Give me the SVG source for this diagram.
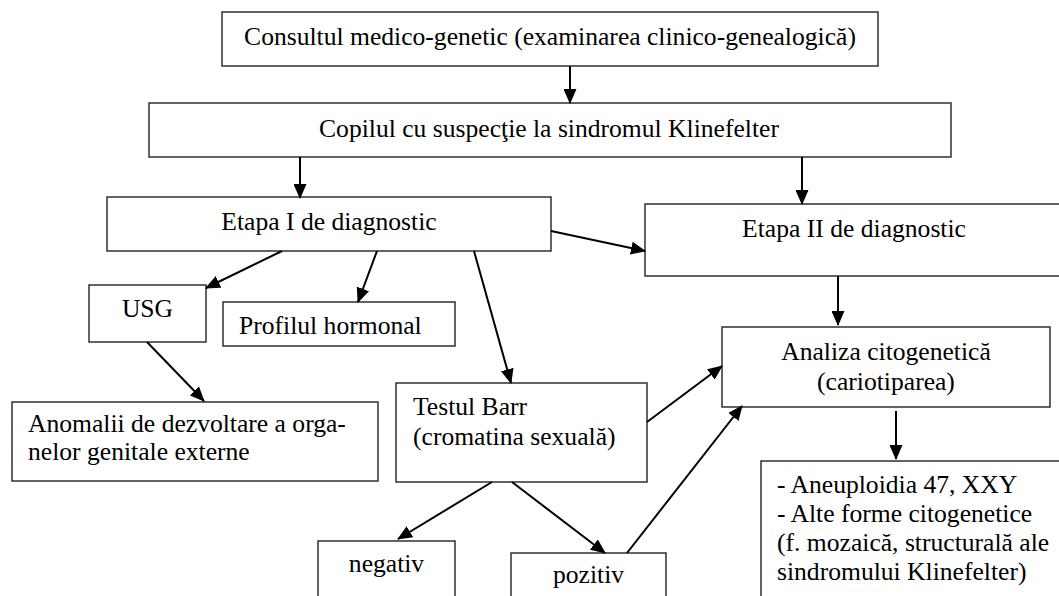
<svg xmlns="http://www.w3.org/2000/svg" width="1059" height="596" viewBox="0 0 1059 596">
<style>
.box{fill:#fff;stroke:#222;stroke-width:1.4}
.t{font-family:"Liberation Serif","Times New Roman",serif;font-size:25.6px;fill:#000}
.c{text-anchor:middle}
.ln{stroke:#000;stroke-width:2;fill:none;marker-end:url(#ah)}
</style>
<defs>
<marker id="ah" markerUnits="userSpaceOnUse" markerWidth="15" markerHeight="13" refX="14" refY="6.5" orient="auto">
<path d="M0,0 L15,6.5 L0,13 z" fill="#000"/>
</marker>
</defs>
<rect width="1059" height="596" fill="#fff"/>
<g id="n-consult"><rect class="box" x="222" y="12" width="656" height="54"/><text class="t c" x="550" y="45">Consultul medico-genetic (examinarea clinico-genealogică)</text></g>
<g id="n-copil"><rect class="box" x="149" y="103" width="802" height="54"/><text class="t c" x="549" y="137">Copilul cu suspecţie la sindromul Klinefelter</text></g>
<g id="n-etapa1"><rect class="box" x="107" y="197" width="444" height="54"/><text class="t c" x="329" y="230">Etapa I de diagnostic</text></g>
<g id="n-etapa2"><rect class="box" x="645" y="204" width="420" height="72"/><text class="t c" x="854" y="237">Etapa II de diagnostic</text></g>
<g id="n-usg"><rect class="box" x="89" y="285" width="117" height="57"/><text class="t c" x="147.5" y="317">USG</text></g>
<g id="n-profil"><rect class="box" x="223" y="302" width="232" height="44"/><text class="t" x="239" y="334">Profilul hormonal</text></g>
<g id="n-anomalii"><rect class="box" x="12" y="402" width="366" height="79"/><text class="t" x="28" y="432">Anomalii de dezvoltare a orga-</text><text class="t" x="28" y="460">nelor genitale externe</text></g>
<g id="n-barr"><rect class="box" x="396" y="383" width="251" height="99"/><text class="t" x="413" y="415">Testul Barr</text><text class="t" x="413" y="445">(cromatina sexuală)</text></g>
<g id="n-analiza"><rect class="box" x="722" y="327" width="328" height="80"/><text class="t c" x="886" y="360">Analiza citogenetică</text><text class="t c" x="886" y="390">(cariotiparea)</text></g>
<g id="n-rezultat"><rect class="box" x="761" y="461" width="310" height="145"/><text class="t" x="777" y="493">- Aneuploidia 47, XXY</text><text class="t" x="777" y="522">- Alte forme citogenetice</text><text class="t" x="777" y="551">(f. mozaică, structurală ale</text><text class="t" x="777" y="580">sindromului Klinefelter)</text></g>
<g id="n-negativ"><rect class="box" x="318" y="541" width="137" height="65"/><text class="t c" x="386.5" y="572">negativ</text></g>
<g id="n-pozitiv"><rect class="box" x="511" y="553" width="155" height="53"/><text class="t c" x="588.5" y="583">pozitiv</text></g>
<g id="connectors">
<line class="ln" x1="570" y1="66" x2="570" y2="103"/>
<line class="ln" x1="300" y1="157" x2="300" y2="198"/>
<line class="ln" x1="802" y1="157" x2="802" y2="204"/>
<line class="ln" x1="551" y1="231" x2="645" y2="251"/>
<line class="ln" x1="282" y1="251" x2="206" y2="288"/>
<line class="ln" x1="377" y1="251" x2="358" y2="302"/>
<line class="ln" x1="474" y1="251" x2="511" y2="383"/>
<line class="ln" x1="838" y1="276" x2="838" y2="325"/>
<line class="ln" x1="147" y1="342" x2="204" y2="401"/>
<line class="ln" x1="647" y1="422" x2="722" y2="366"/>
<line class="ln" x1="627" y1="553" x2="742" y2="406"/>
<line class="ln" x1="896" y1="411" x2="896" y2="459"/>
<line class="ln" x1="492" y1="482" x2="398" y2="539"/>
<line class="ln" x1="512" y1="482" x2="605" y2="553"/>
</g>
</svg>
